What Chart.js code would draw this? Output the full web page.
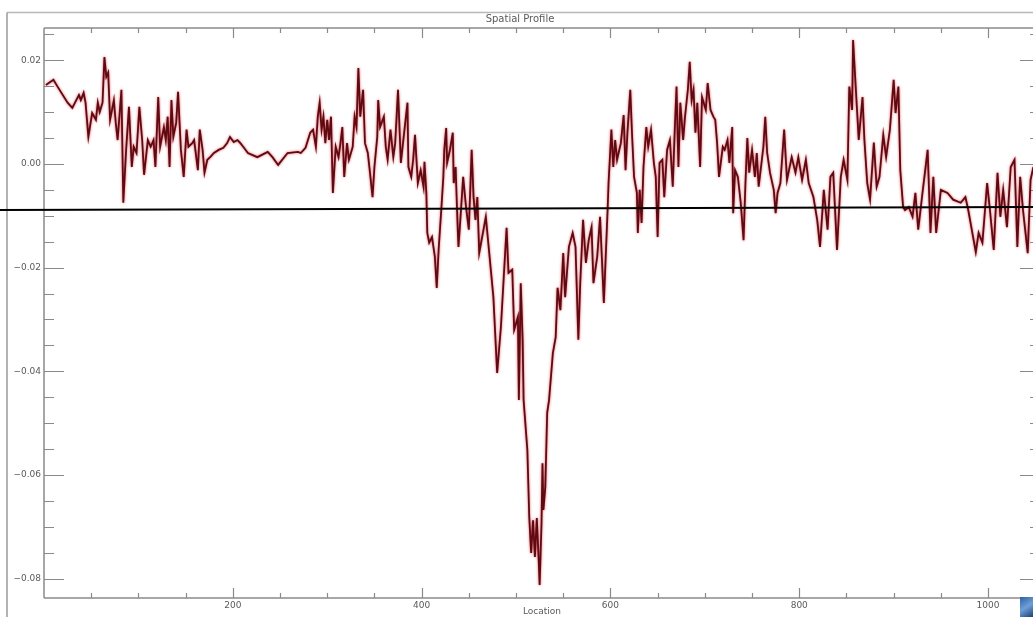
<!DOCTYPE html>
<html>
<head>
<meta charset="utf-8">
<title>Spatial Profile</title>
<script src="https://cdn.jsdelivr.net/npm/chart.js@4/dist/chart.umd.min.js"></script>
<style>
  html, body { margin: 0; padding: 0; background: #fff; overflow: hidden; }
  #wrap { position: relative; width: 1045px; height: 617px; }
</style>
</head>
<body>
<div id="wrap"><canvas id="profileChart" width="1045" height="617"></canvas></div>
<script>
// Profile samples: location along the transect and the measured value there
const locations = [
  2, 10, 15, 25, 30, 37, 39, 42, 44, 47,
  51, 55, 57, 59, 62, 64, 66, 68, 70, 74,
  76, 78, 82, 84, 87, 90, 93, 95, 98, 101,
  104, 106, 110, 113, 116, 118, 121, 123, 127, 129,
  131, 133, 135, 137, 140, 142, 145, 148, 151, 153,
  157, 159, 163, 165, 168, 170, 173, 176, 180, 185,
  190, 194, 197, 201, 205, 208, 211, 216, 221, 226,
  237, 242, 248, 258, 269, 272, 277, 282, 285, 288,
  290, 292, 294, 296, 298, 300, 302, 304, 306, 309,
  312, 314, 316, 318, 321, 323, 327, 329, 331, 333,
  335, 338, 340, 343, 345, 348, 350, 353, 354, 356,
  360, 362, 364, 367, 370, 372, 375, 378, 381, 385,
  386, 389, 391, 393, 396, 399, 402, 403, 405, 406,
  408, 411, 414, 416, 418, 421, 423, 424, 426, 427,
  430, 433, 434, 436, 438, 439, 441, 444, 447, 450,
  453, 455, 457, 459, 461, 468, 471, 476, 480, 484,
  487, 490, 492, 496, 498, 502, 503, 505, 507, 508,
  512, 514, 516, 518, 520, 522, 524, 525, 527, 528,
  529, 531, 533, 535, 539, 542, 544, 547, 550, 552,
  556, 560, 563, 566, 568, 571, 574, 577, 580, 582,
  586, 589, 593, 597, 598, 601, 603, 605, 607, 611,
  614, 616, 618, 621, 623, 625, 628, 629, 631, 633,
  635, 638, 640, 643, 646, 648, 650, 652, 655, 657,
  660, 663, 666, 668, 670, 672, 674, 677, 679, 682,
  684, 686, 688, 690, 692, 695, 697, 701, 703, 706,
  709, 711, 713, 715, 719, 721, 724, 726, 729, 730,
  732, 735, 738, 741, 743, 745, 747, 750, 753, 755,
  757, 760, 762, 764, 766, 769, 773, 775, 777, 780,
  784, 787, 792, 796, 799, 803, 807, 810, 815, 819,
  822, 826, 830, 833, 836, 840, 844, 847, 851, 853,
  856, 857, 861, 863, 867, 869, 872, 875, 879, 882,
  885, 889, 892, 896, 900, 902, 905, 907, 910, 912,
  916, 920, 923, 926, 930, 936, 939, 942, 945, 950,
  957, 963, 971, 976, 979, 987, 990, 994, 999, 1002,
  1006, 1010, 1013, 1016, 1020, 1024, 1028, 1031, 1034, 1037,
  1042, 1045, 1048
];
const profileValues = [
  0.0152, 0.0162, 0.0147, 0.0118, 0.0108, 0.0133, 0.0123, 0.0137, 0.0118, 0.0052,
  0.0098, 0.0085, 0.0118, 0.0100, 0.0118, 0.0206, 0.0168, 0.0176, 0.0085, 0.0123,
  0.0079, 0.0046, 0.0143, -0.0075, 0.0027, 0.0110, -0.0006, 0.0033, 0.0021, 0.0110,
  0.0046, -0.0021, 0.0046, 0.0033, 0.0046, -0.0006, 0.0129, 0.0033, 0.0071, 0.0046,
  0.0091, -0.0006, 0.0123, 0.0052, 0.0079, 0.0139, 0.0027, -0.0025, 0.0066, 0.0033,
  0.0040, 0.0046, -0.0012, 0.0066, 0.0027, -0.0017, 0.0008, 0.0013, 0.0021, 0.0027,
  0.0031, 0.0040, 0.0052, 0.0042, 0.0046, 0.0040, 0.0033, 0.0021, 0.0017, 0.0013,
  0.0023, 0.0013, -0.0002, 0.0021, 0.0023, 0.0021, 0.0031, 0.0060, 0.0066, 0.0033,
  0.0091, 0.0118, 0.0066, 0.0091, 0.0040, 0.0085, 0.0046, 0.0091, -0.0056, 0.0033,
  0.0013, 0.0040, 0.0071, -0.0025, 0.0040, 0.0008, 0.0033, 0.0091, 0.0071, 0.0185,
  0.0091, 0.0143, 0.0040, 0.0021, -0.0012, -0.0064, -0.0006, 0.0052, 0.0123, 0.0071,
  0.0091, 0.0033, 0.0008, 0.0066, 0.0013, 0.0040, 0.0143, 0.0002, 0.0052, 0.0118,
  -0.0006, -0.0025, 0.0008, 0.0056, -0.0037, -0.0012, -0.0044, 0.0004, -0.0056, -0.0133,
  -0.0152, -0.0141, -0.0179, -0.0239, -0.0166, -0.0083, -0.0025, 0.0027, 0.0069, 0.0002,
  0.0027, 0.0060, -0.0037, -0.0006, -0.0114, -0.0160, -0.0108, -0.0025, -0.0083, -0.0127,
  0.0027, -0.0064, -0.0108, -0.0064, -0.0172, -0.0102, -0.0160, -0.0257, -0.0403, -0.0314,
  -0.0218, -0.0123, -0.0210, -0.0204, -0.0320, -0.0295, -0.0455, -0.0230, -0.0339, -0.0455,
  -0.0552, -0.0681, -0.0750, -0.0687, -0.0758, -0.0683, -0.0764, -0.0812, -0.0692, -0.0577,
  -0.0667, -0.0623, -0.0480, -0.0455, -0.0365, -0.0334, -0.0239, -0.0282, -0.0172, -0.0257,
  -0.0160, -0.0133, -0.0160, -0.0339, -0.0230, -0.0108, -0.0191, -0.0147, -0.0122, -0.0230,
  -0.0179, -0.0102, -0.0268, -0.0089, -0.0037, 0.0066, -0.0006, 0.0046, 0.0008, 0.0040,
  0.0094, -0.0012, 0.0060, 0.0143, 0.0052, -0.0025, -0.0056, -0.0133, -0.0050, -0.0114,
  -0.0006, 0.0071, 0.0033, 0.0066, 0.0002, -0.0025, -0.0141, 0.0002, 0.0008, -0.0064,
  0.0027, 0.0046, -0.0044, 0.0060, 0.0149, -0.0006, 0.0118, 0.0046, 0.0091, 0.0143,
  0.0197, 0.0123, 0.0143, 0.0060, 0.0118, -0.0006, 0.0129, 0.0104, 0.0156, 0.0104,
  0.0091, 0.0085, 0.0040, -0.0025, 0.0033, 0.0027, 0.0046, 0.0002, 0.0071, -0.0095,
  -0.0012, -0.0025, -0.0075, -0.0147, -0.0037, 0.0050, -0.0017, 0.0027, -0.0025, 0.0021,
  -0.0044, 0.0002, 0.0033, 0.0091, 0.0021, -0.0017, -0.0050, -0.0095, -0.0056, -0.0037,
  0.0066, -0.0031, 0.0013, -0.0017, 0.0013, -0.0031, 0.0008, -0.0037, -0.0064, -0.0108,
  -0.0160, -0.0050, -0.0127, -0.0025, -0.0017, -0.0166, -0.0025, 0.0008, -0.0031, 0.0149,
  0.0104, 0.0239, 0.0110, 0.0046, 0.0129, 0.0046, -0.0037, -0.0069, 0.0041, -0.0044,
  -0.0025, 0.0056, 0.0013, 0.0066, 0.0162, 0.0098, 0.0149, -0.0012, -0.0083, -0.0089,
  -0.0083, -0.0102, -0.0056, -0.0127, -0.0064, 0.0027, -0.0133, -0.0025, -0.0133, -0.0050,
  -0.0056, -0.0069, -0.0075, -0.0064, -0.0089, -0.0170, -0.0133, -0.0152, -0.0037, -0.0089,
  -0.0166, -0.0017, -0.0102, -0.0050, -0.0122, -0.0006, 0.0008, -0.0160, -0.0025, -0.0089,
  -0.0172, -0.0031, -0.0006
];

// Axis labels and ranges
const xTickValues = [200, 400, 600, 800, 1000];
const yTickValues = [0.02, 0.00, -0.02, -0.04, -0.06, -0.08];
const xRange = [0, 1055];
const yRange = [-0.0837, 0.0262];
// Horizontal reference level (value at the left and right edge of the window)
const referenceLevel = [-0.0089, -0.0083];

const AXIS_GREY = '#8a8a8a';
const TEXT_GREY = '#5a5a5a';
const FONT = 'DejaVu Sans';

const points = locations.map((loc, i) => ({ x: loc, y: profileValues[i] }));

function fmtY(v) {
  const s = Math.abs(v).toFixed(2);
  return v < -1e-9 ? '\u2212' + s : s;
}

// IDL-style frame: axis box with inward tick marks on all four sides
const framePlugin = {
  id: 'frame',
  beforeDraw(chart) {
    const { ctx, width, height } = chart;
    ctx.save();
    ctx.fillStyle = '#ffffff';
    ctx.fillRect(0, 0, width, height);
    // window border
    ctx.strokeStyle = '#b8b8b8';
    ctx.lineWidth = 1.5;
    ctx.beginPath();
    ctx.moveTo(7, 12.5); ctx.lineTo(width, 12.5);
    ctx.stroke();
    ctx.strokeStyle = '#9a9a9a';
    ctx.beginPath();
    ctx.moveTo(7, 12.5); ctx.lineTo(7, height);
    ctx.stroke();
    ctx.restore();
  },
  beforeDatasetsDraw(chart) {
    const { ctx, chartArea: a, scales } = chart;
    const xs = scales.x, ys = scales.y;
    ctx.save();
    ctx.strokeStyle = AXIS_GREY;
    ctx.lineWidth = 1.5;
    ctx.beginPath();
    ctx.moveTo(a.left, a.top); ctx.lineTo(a.right, a.top);
    ctx.moveTo(a.left, a.bottom); ctx.lineTo(a.right, a.bottom);
    ctx.moveTo(a.left, a.top); ctx.lineTo(a.left, a.bottom);
    ctx.moveTo(a.right, a.top); ctx.lineTo(a.right, a.bottom);
    ctx.stroke();

    ctx.lineWidth = 1.2;
    ctx.beginPath();
    // x ticks: minor every 50, major on labelled values
    for (let v = 50; v < xs.max; v += 50) {
      const px = Math.round(xs.getPixelForValue(v)) + 0.5;
      const len = xTickValues.includes(v) ? 10 : 5;
      ctx.moveTo(px, a.bottom); ctx.lineTo(px, a.bottom - len);
      ctx.moveTo(px, a.top); ctx.lineTo(px, a.top + len);
    }
    // y ticks: minor every 0.005, major on labelled values
    for (let k = -16; k <= 5; k++) {
      const v = k * 0.005;
      if (v < ys.min || v > ys.max) continue;
      const py = Math.round(ys.getPixelForValue(v)) + 0.5;
      const len = (k % 4) === 0 ? 20 : 10;
      ctx.moveTo(a.left, py); ctx.lineTo(a.left + len, py);
      ctx.moveTo(a.right, py); ctx.lineTo(a.right - len, py);
    }
    ctx.stroke();
    ctx.restore();
  },
  beforeDatasetDraw(chart) {
    // soft red halo around the dark profile line
    const ctx = chart.ctx;
    ctx.save();
    ctx.shadowColor = 'rgba(215, 40, 50, 0.85)';
    ctx.shadowBlur = 2.5;
  },
  afterDatasetDraw(chart) {
    chart.ctx.restore();
  },
  afterDraw(chart) {
    const { ctx, scales } = chart;
    const ys = scales.y;
    ctx.save();
    // reference level across the whole window
    ctx.strokeStyle = '#000000';
    ctx.lineWidth = 2;
    ctx.beginPath();
    ctx.moveTo(0, ys.getPixelForValue(referenceLevel[0]));
    ctx.lineTo(1033, ys.getPixelForValue(referenceLevel[1]));
    ctx.stroke();
    // resize grip in the lower right corner
    const g = ctx.createLinearGradient(1020, 597, 1033, 617);
    g.addColorStop(0, '#2f5f9e');
    g.addColorStop(0.5, '#6f9fd8');
    g.addColorStop(1, '#1d3f74');
    ctx.fillStyle = g;
    ctx.fillRect(1020, 597, 13, 20);
    ctx.restore();
  }
};

new Chart(document.getElementById('profileChart'), {
  type: 'line',
  data: {
    datasets: [{
      label: 'Spatial Profile',
      data: points,
      borderColor: '#5e0a12',
      borderWidth: 1.8,
      pointRadius: 0,
      tension: 0,
      fill: false
    }]
  },
  options: {
    responsive: false,
    animation: false,
    events: [],
    layout: { padding: { left: 0, right: 5, top: 0, bottom: 0 } },
    plugins: {
      legend: { display: false },
      tooltip: { enabled: false },
      title: {
        display: true,
        text: 'Spatial Profile',
        color: TEXT_GREY,
        font: { family: FONT, size: 10, weight: 'normal', lineHeight: 1.2 },
        padding: { top: 13, bottom: 3 }
      }
    },
    scales: {
      x: {
        type: 'linear',
        min: xRange[0],
        max: xRange[1],
        grid: { display: false, drawTicks: false },
        border: { display: false },
        afterBuildTicks: (s) => { s.ticks = xTickValues.map(v => ({ value: v })); },
        afterFit: (s) => { s.height = 19; },
        ticks: {
          autoSkip: false,
          maxRotation: 0,
          padding: 2,
          color: TEXT_GREY,
          font: { family: FONT, size: 9 },
          callback: (v) => String(v)
        },
        title: {
          display: true,
          text: 'Location',
          color: TEXT_GREY,
          font: { family: FONT, size: 9 },
          padding: { top: 0, bottom: 0 }
        }
      },
      y: {
        type: 'linear',
        min: yRange[0],
        max: yRange[1],
        grid: { display: false, drawTicks: false },
        border: { display: false },
        afterBuildTicks: (s) => { s.ticks = yTickValues.map(v => ({ value: v })); },
        afterFit: (s) => { s.width = 44; },
        ticks: {
          autoSkip: false,
          padding: 3,
          color: TEXT_GREY,
          font: { family: FONT, size: 9 },
          callback: (v) => fmtY(v)
        }
      }
    }
  },
  plugins: [framePlugin]
});
</script>
</body>
</html>
